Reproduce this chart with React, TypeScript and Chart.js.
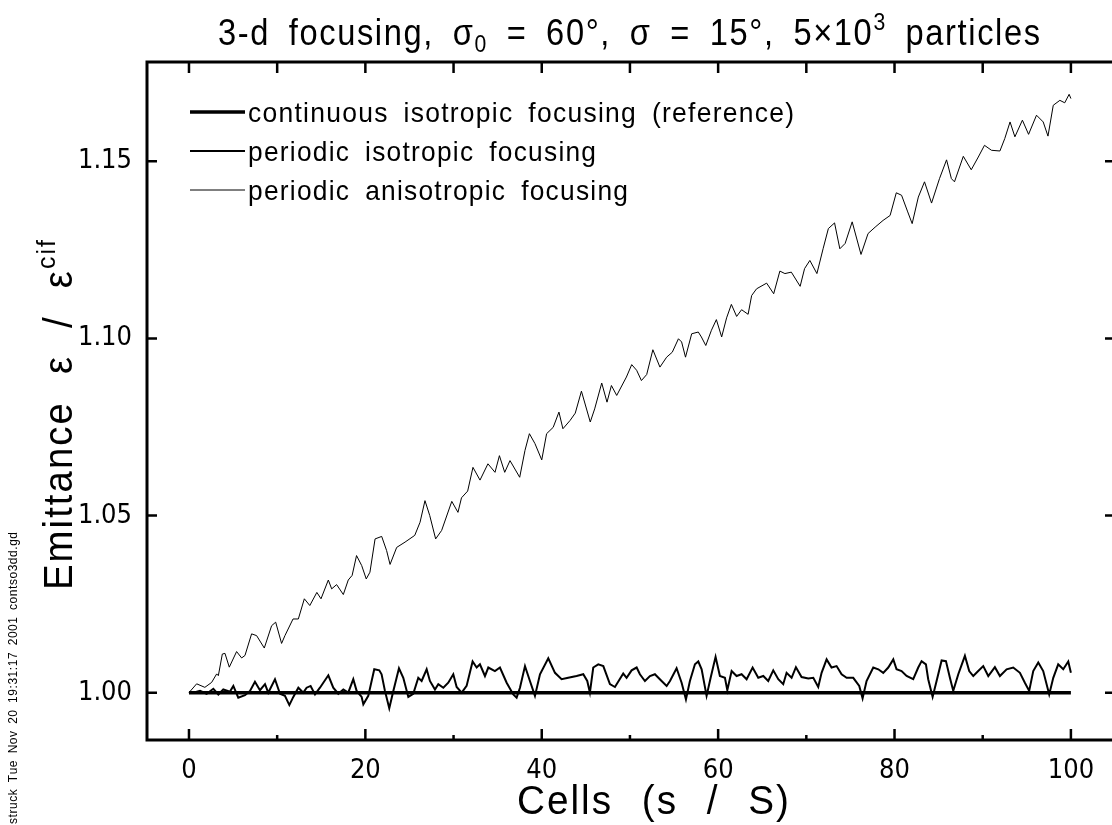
import React, { useEffect, useRef } from "react";
import { Chart, registerables } from "chart.js";

Chart.register(...registerables);

// ---------- data ----------
const xMajorTicks = [0, 20, 40, 60, 80, 100];
const xMinorTicks = [10, 30, 50, 70, 90];
const yTicks = [1.0, 1.05, 1.1, 1.15];

const seriesLabels = [
  "continuous isotropic focusing (reference)",
  "periodic isotropic focusing",
  "periodic anisotropic focusing",
];

const refX = [0, 100];
const refY = [1.0, 1.0];

const isoX = [
  0, 0.49, 1.25, 2.0, 2.76, 3.33, 3.89, 4.65, 5.03, 5.59,
  6.35, 6.92, 7.48, 8.05, 8.62, 8.99, 9.75, 10.32, 10.88, 11.38,
  11.83, 12.4, 12.96, 13.34, 13.79, 14.29, 14.85, 15.8, 16.36, 16.93,
  17.5, 18.06, 18.63, 19.01, 19.58, 19.77, 20.33, 21.01, 21.58, 21.84,
  22.22, 22.71, 23.17, 23.81, 24.3, 24.87, 25.43, 26.0, 26.38, 26.95,
  27.32, 27.89, 28.27, 28.84, 29.4, 29.97, 30.35, 30.92, 31.48, 32.16,
  32.62, 32.99, 33.56, 33.94, 34.69, 35.26, 36.02, 36.77, 37.15, 37.53,
  38.1, 38.66, 39.23, 39.8, 40.74, 41.5, 42.25, 43.0, 43.95, 44.71,
  45.16, 45.46, 45.84, 46.41, 46.98, 47.73, 48.3, 49.24, 49.62, 50.19,
  50.76, 51.13, 51.7, 52.27, 52.83, 53.59, 54.16, 54.54, 55.29, 55.86,
  56.35, 56.8, 57.37, 57.75, 58.13, 58.69, 59.15, 59.71, 60.2, 60.77,
  61.04, 61.53, 62.09, 62.66, 63.23, 63.91, 64.55, 65.12, 65.68, 66.25,
  66.82, 67.38, 67.76, 68.33, 68.82, 69.46, 70.22, 70.79, 71.35, 71.73,
  72.3, 72.86, 73.43, 74.0, 74.57, 75.32, 76.0, 76.38, 76.83, 77.59,
  78.16, 78.72, 79.29, 79.86, 80.23, 80.8, 81.37, 82.12, 82.69, 83.07,
  83.56, 83.82, 84.32, 84.77, 85.34, 85.83, 86.28, 86.66, 87.23, 87.98,
  88.47, 88.93, 89.49, 90.06, 90.63, 91.38, 91.95, 92.71, 93.46, 94.22,
  94.78, 95.27, 95.73, 96.3, 96.86, 97.54, 98.0, 98.56, 99.13, 99.7,
  100,
];
const isoY = [
  1.0, 1.0, 1.0005, 0.9997, 1.0011, 0.9995, 1.0009, 1.0003, 1.0019, 0.9986,
  0.9993, 1.0005, 1.0031, 1.0007, 1.0024, 1.0, 1.0038, 0.9997, 0.9991, 0.9965,
  0.9988, 1.0014, 1.0, 1.0014, 1.0019, 0.9995, 1.0014, 1.0049, 1.0014, 0.9997,
  1.0009, 1.0, 1.0038, 1.0005, 0.9988, 0.9967, 0.9991, 1.0066, 1.0063, 1.0052,
  1.0005, 0.9956, 1.0005, 1.0069, 1.0042, 0.9988, 0.9997, 1.0042, 1.0033, 1.0066,
  1.0033, 1.0009, 1.0024, 1.0014, 1.0028, 1.0052, 1.0016, 1.0, 1.0019, 1.0088,
  1.0071, 1.008, 1.0047, 1.0071, 1.0061, 1.0071, 1.0028, 0.9995, 0.9986, 1.0014,
  1.0075, 1.0033, 0.9991, 1.0052, 1.0097, 1.0056, 1.0038, 1.0042, 1.0047, 1.0052,
  1.0033, 1.0, 1.0071, 1.008, 1.0075, 1.0024, 1.0016, 1.0054, 1.0042, 1.0063,
  1.0071, 1.0052, 1.0033, 1.0047, 1.0052, 1.0033, 1.0019, 1.0033, 1.0069, 1.0028,
  0.9981, 1.0033, 1.008, 1.0088, 1.0066, 0.9991, 1.0042, 1.0101, 1.0047, 1.0042,
  1.0007, 1.0061, 1.0047, 1.0052, 1.0038, 1.0071, 1.0042, 1.0047, 1.0033, 1.0063,
  1.0038, 1.0024, 1.0056, 1.0042, 1.0072, 1.0044, 1.004, 1.0042, 1.0016, 1.0056,
  1.0094, 1.0071, 1.0075, 1.0052, 1.0042, 1.0042, 1.0019, 0.9984, 1.0033, 1.0071,
  1.0066, 1.0056, 1.0071, 1.0094, 1.0066, 1.0061, 1.0047, 1.0038, 1.0071, 1.0089,
  1.008, 1.0038, 0.9988, 1.0033, 1.0091, 1.0089, 1.0042, 1.0005, 1.0052, 1.0104,
  1.0061, 1.0047, 1.0061, 1.0075, 1.0047, 1.0072, 1.0047, 1.0066, 1.0071, 1.0056,
  1.0028, 1.0005, 1.0061, 1.0085, 1.0061, 0.9995, 1.0042, 1.008, 1.0066, 1.0088,
  1.0056,
];

const anisoX = [
  0, 0.87, 1.8, 2.57, 3.14, 3.33, 3.78, 4.08, 4.57, 5.4,
  5.97, 6.35, 7.1, 7.67, 8.54, 9.37, 9.83, 10.5, 10.88, 11.8,
  12.4, 13.08, 13.7, 14.5, 14.97, 15.8, 16.18, 16.74, 17.5, 18.06,
  18.5, 19.0, 19.58, 20.1, 20.52, 21.1, 21.85, 22.41, 22.8, 23.55,
  24.5, 25.6, 26.2, 26.76, 27.3, 27.97, 28.65, 29.8, 30.5, 30.9,
  31.6, 32.2, 33.0, 33.9, 34.7, 35.2, 35.8, 36.4, 37.5, 38.1,
  38.6, 39.23, 40.0, 40.55, 41.3, 41.95, 42.4, 43.2, 43.8, 44.5,
  45.5, 46.0, 46.8, 47.4, 47.9, 48.5, 49.6, 50.2, 50.76, 51.3,
  51.9, 52.6, 53.4, 54.16, 54.8, 55.5, 55.86, 56.3, 57.0, 57.75,
  58.1, 58.6, 59.24, 59.8, 60.4, 60.96, 61.5, 62.1, 62.66, 63.4,
  63.8, 64.36, 65.5, 66.3, 67.0, 67.57, 68.3, 69.3, 69.8, 70.4,
  71.2, 71.9, 72.5, 73.2, 73.8, 74.4, 75.2, 76.2, 77.0, 77.8,
  78.7, 79.5, 80.2, 80.8, 81.5, 82.0, 82.7, 83.4, 84.2, 85.1,
  85.9, 86.45, 86.8, 87.8, 88.7, 89.5, 90.2, 91.0, 91.95, 92.5,
  93.1, 93.65, 94.5, 95.2, 96.1, 96.86, 97.4, 98.0, 98.75, 99.3,
  99.8, 100,
];
const anisoY = [
  1.0, 1.0025, 1.0015, 1.0029, 1.0053, 1.0048, 1.0109, 1.0111, 1.0072, 1.0116,
  1.0098, 1.0105, 1.0166, 1.0161, 1.0126, 1.0189, 1.0199, 1.0139, 1.0161, 1.0208,
  1.0208, 1.0265, 1.0246, 1.0283, 1.0265, 1.0318, 1.0293, 1.0305, 1.0277, 1.0318,
  1.0331, 1.0387, 1.0359, 1.0321, 1.034, 1.0434, 1.0441, 1.0401, 1.0362, 1.041,
  1.0425, 1.0444, 1.0481, 1.0542, 1.05, 1.0434, 1.0458, 1.054, 1.0509, 1.055,
  1.0569, 1.0636, 1.06, 1.0646, 1.0622, 1.0669, 1.0622, 1.0655, 1.0608, 1.0684,
  1.0731, 1.0703, 1.0657, 1.0731, 1.0749, 1.0792, 1.0745, 1.0768, 1.0789, 1.0851,
  1.0764, 1.0801, 1.0874, 1.082, 1.0867, 1.0839, 1.0891, 1.0926, 1.091, 1.0881,
  1.0898, 1.0968, 1.0919, 1.0947, 1.0961, 1.0999, 1.099, 1.0947, 1.1013, 1.1018,
  1.1004, 1.098, 1.1023, 1.1053, 1.1004, 1.1058, 1.1096, 1.1062, 1.1081, 1.1068,
  1.1121, 1.114, 1.1156, 1.1126, 1.119, 1.1183, 1.1187, 1.1147, 1.1197, 1.122,
  1.1183, 1.1253, 1.131, 1.1326, 1.1253, 1.1268, 1.1329, 1.1237, 1.1296, 1.1314,
  1.1333, 1.1347, 1.1411, 1.1404, 1.1357, 1.1324, 1.1399, 1.1442, 1.1382, 1.1451,
  1.1504, 1.1451, 1.1442, 1.1514, 1.1476, 1.1512, 1.1545, 1.1531, 1.1529, 1.1564,
  1.1611, 1.1569, 1.1616, 1.1576, 1.163, 1.1611, 1.1571, 1.1658, 1.1672, 1.1665,
  1.1689, 1.1677,
];

// ---------- drawing helpers ----------
const FONT = "'Liberation Sans', Arimo, Arial, sans-serif";
const TICK_FONT = "'Liberation Sans Narrow', 'DejaVu Sans Condensed', 'Liberation Sans', sans-serif";

type Seg = { t: string; s?: number; dy?: number };

// Draws text char by char at a given font size (sets glyph height); glyphs are
// stretched horizontally so that, with a small fixed gap budget (word gaps
// weighted more), the string fills the requested width.
function drawSegs(
  ctx: CanvasRenderingContext2D,
  segs: Seg[],
  x: number,
  y: number,
  size: number,
  width: number,
  align: "left" | "center",
  gap = 0.045,
  spaceWeight = 6
) {
  ctx.save();
  ctx.fillStyle = "#000";
  ctx.textBaseline = "alphabetic";
  ctx.textAlign = "left";
  const anyCtx = ctx as any;
  if ("letterSpacing" in ctx) anyCtx.letterSpacing = "0px";
  type Ch = { c: string; font: string; dy: number; w: number };
  const chars: Ch[] = [];
  segs.forEach((sg) => {
    const font = `${size * (sg.s ?? 1)}px ${FONT}`;
    ctx.font = font;
    Array.from(sg.t).forEach((c) => {
      chars.push({ c, font, dy: sg.dy ?? 0, w: ctx.measureText(c).width });
    });
  });
  const w0 = chars.reduce((a, p) => a + p.w, 0);
  let weights = 0;
  chars.forEach((ch, i) => {
    if (i === chars.length - 1) return;
    weights += ch.c === " " ? spaceWeight : 1;
  });
  const unit = gap * size;
  const sx = width ? Math.max(0.5, (width - unit * weights) / w0) : 1;
  const total = width || w0;
  let px = align === "center" ? x - total / 2 : x;
  chars.forEach((ch) => {
    if (ch.c !== " ") {
      ctx.save();
      ctx.font = ch.font;
      ctx.translate(px, y + ch.dy);
      ctx.scale(sx, 1);
      ctx.fillText(ch.c, 0, 0);
      ctx.restore();
    }
    px += ch.w * sx + unit * (ch.c === " " ? spaceWeight : 1);
  });
  ctx.restore();
}

const decorPlugin = {
  id: "decor",
  afterDraw(chart: any) {
    const ctx: CanvasRenderingContext2D = chart.ctx;
    const { left, right, top, bottom } = chart.chartArea;
    const xs = chart.scales.x;
    const ys = chart.scales.y;
    ctx.save();
    ctx.strokeStyle = "#000";
    ctx.lineCap = "butt";

    // frame
    ctx.lineWidth = 3;
    ctx.strokeRect(left, top, right - left, bottom - top);

    // ticks (inward)
    ctx.lineWidth = 2.5;
    ctx.beginPath();
    xMajorTicks.forEach((v) => {
      const p = xs.getPixelForValue(v);
      ctx.moveTo(p, bottom);
      ctx.lineTo(p, bottom - 11);
      ctx.moveTo(p, top);
      ctx.lineTo(p, top + 11);
    });
    xMinorTicks.forEach((v) => {
      const p = xs.getPixelForValue(v);
      ctx.moveTo(p, bottom);
      ctx.lineTo(p, bottom - 5);
      ctx.moveTo(p, top);
      ctx.lineTo(p, top + 11);
    });
    yTicks.forEach((v) => {
      const p = ys.getPixelForValue(v);
      ctx.moveTo(left, p);
      ctx.lineTo(left + 10, p);
      ctx.moveTo(right, p);
      ctx.lineTo(right - 10, p);
    });
    ctx.stroke();

    // legend
    const legendY = [112, 151, 190];
    const legendW = [3.5, 2, 1];
    const legendTextW = [546, 348, 380];
    seriesLabels.forEach((lab, i) => {
      ctx.lineWidth = legendW[i];
      ctx.beginPath();
      ctx.moveTo(190, legendY[i]);
      ctx.lineTo(245, legendY[i]);
      ctx.stroke();
      drawSegs(ctx, [{ t: lab }], 248, legendY[i] + 10, 28, legendTextW[i], "left");
    });

    // title
    drawSegs(
      ctx,
      [
        { t: "3-d focusing, σ" },
        { t: "0", s: 0.65, dy: 7 },
        { t: " = 60°, σ = 15°, 5×10" },
        { t: "3", s: 0.65, dy: -15 },
        { t: " particles" },
      ],
      629,
      45,
      36,
      822,
      "center"
    );

    // x axis title
    drawSegs(ctx, [{ t: "Cells (s / S)" }], 653, 814, 40, 272, "center", 0.05, 9);

    // y axis title (rotated)
    ctx.save();
    ctx.translate(72, 415);
    ctx.rotate(-Math.PI / 2);
    drawSegs(
      ctx,
      [{ t: "Emittance ε / ε" }, { t: "cif", s: 0.65, dy: -17 }],
      0,
      0,
      41,
      350,
      "center",
      0.05,
      8
    );
    ctx.restore();

    // side stamp
    ctx.save();
    ctx.translate(17, 824);
    ctx.rotate(-Math.PI / 2);
    drawSegs(ctx, [{ t: "struck Tue Nov 20 19:31:17 2001 contso3dd.gd" }], 0, 0, 12, 292, "left");
    ctx.restore();

    ctx.restore();
  },
};

function toPoints(xs: number[], ys: number[]) {
  return xs.map((x, i) => ({ x, y: ys[i] }));
}

export default function App() {
  const ref = useRef<HTMLCanvasElement>(null);

  useEffect(() => {
    const canvas = ref.current;
    if (!canvas) return;
    const chart = new Chart(canvas, {
      type: "line",
      data: {
        datasets: [
          {
            label: seriesLabels[0],
            data: toPoints(refX, refY),
            borderColor: "#000",
            borderWidth: 3.5,
            pointRadius: 0,
            tension: 0,
          },
          {
            label: seriesLabels[1],
            data: toPoints(isoX, isoY),
            borderColor: "#000",
            borderWidth: 2,
            pointRadius: 0,
            tension: 0,
          },
          {
            label: seriesLabels[2],
            data: toPoints(anisoX, anisoY),
            borderColor: "#000",
            borderWidth: 1,
            pointRadius: 0,
            tension: 0,
          },
        ],
      },
      options: {
        responsive: false,
        animation: false,
        devicePixelRatio: 1,
        events: [],
        layout: { padding: { left: 0, top: 62, right: 5, bottom: 0 } },
        plugins: {
          legend: { display: false },
          title: { display: false },
          tooltip: { enabled: false },
        },
        scales: {
          x: {
            type: "linear",
            min: -4.76,
            max: 105,
            grid: { display: false, drawTicks: false },
            border: { display: false },
            afterBuildTicks: (s: any) => {
              s.ticks = xMajorTicks.map((v) => ({ value: v }));
            },
            afterFit: (s: any) => {
              s.height = 85;
            },
            ticks: {
              autoSkip: false,
              maxRotation: 0,
              padding: 15,
              color: "#000",
              font: { family: TICK_FONT, size: 27 },
              callback: (v: any) => String(v),
            },
          },
          y: {
            type: "linear",
            min: 0.98664,
            max: 1.17802,
            grid: { display: false, drawTicks: false },
            border: { display: false },
            afterBuildTicks: (s: any) => {
              s.ticks = yTicks.map((v) => ({ value: v }));
            },
            afterFit: (s: any) => {
              s.width = 147;
            },
            ticks: {
              padding: 15,
              color: "#000",
              font: { family: TICK_FONT, size: 27 },
              callback: (v: any) => Number(v).toFixed(2),
            },
          },
        },
      },
      plugins: [decorPlugin],
    });
    return () => chart.destroy();
  }, []);

  return (
    <div
      style={{
        position: "fixed",
        left: 0,
        top: 0,
        width: 1112,
        height: 825,
        overflow: "hidden",
        background: "#fff",
      }}
    >
      <canvas
        ref={ref}
        width={1120}
        height={825}
        style={{ display: "block", width: 1120, height: 825 }}
      />
    </div>
  );
}
